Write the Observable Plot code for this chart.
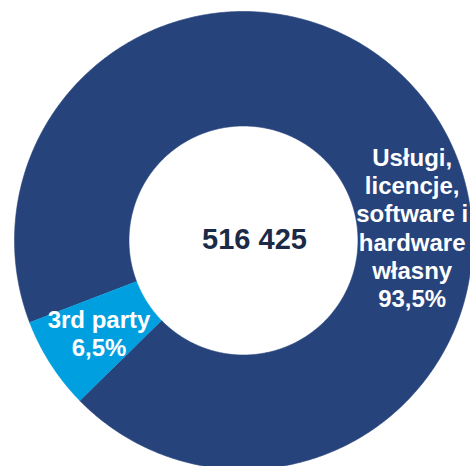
<!DOCTYPE html>
<html>
<head>
<meta charset="utf-8">
<script src="https://cdn.jsdelivr.net/npm/d3@7"></script>
<script src="https://cdn.jsdelivr.net/npm/@observablehq/plot@0.6"></script>
<style>
  html, body { margin: 0; padding: 0; background: #ffffff; }
  #chart { width: 470px; height: 466px; overflow: hidden; }
</style>
</head>
<body>
<div id="chart"></div>
<script>
// ---- data ----
const categories = ["Usługi, licencje, software i hardware własny", "3rd party"];
const shares = [93.5, 6.5];
const sliceLabels = ["Usługi,\nlicencje,\nsoftware i\nhardware\nwłasny\n93,5%", "3rd party\n6,5%"];
const totalLabel = ["516 425"];
const colors = ["#27437c", "#009fdf"];

// ---- geometry (unit circle) ----
const innerR = 0.5, outerR = 1;
const startDeg = 249; // clockwise from 12 o'clock
const total = d3.sum(shares);
const rad = d => d * Math.PI / 180;

const slices = [];
let a = startDeg;
shares.forEach((v, i) => {
  const span = v / total * 360;
  slices.push({cat: categories[i], a0: a, a1: a + span, label: sliceLabels[i]});
  a += span;
});

const pts = [];
slices.forEach(s => {
  const n = Math.max(4, Math.ceil((s.a1 - s.a0) / 0.5));
  for (let k = 0; k <= n; k++) {
    const t = rad(s.a0 + (s.a1 - s.a0) * k / n);
    pts.push({cat: s.cat, x: outerR * Math.sin(t), y: outerR * Math.cos(t)});
  }
  for (let k = n; k >= 0; k--) {
    const t = rad(s.a0 + (s.a1 - s.a0) * k / n);
    pts.push({cat: s.cat, x: innerR * Math.sin(t), y: innerR * Math.cos(t)});
  }
});

// label anchors: mid-ring radius; big slice label sits on the right side
const labelAngleOverride = {0: 85.6};
const labels = slices.map((s, i) => {
  const ang = rad(labelAngleOverride[i] ?? (s.a0 + s.a1) / 2);
  const r = (innerR + outerR) / 2 * (i === 0 ? 0.985 : 1.0);
  return {x: r * Math.sin(ang), y: r * Math.cos(ang), text: s.label};
});

const cx = 243, cy = 240, R = 229;

const chart = Plot.plot({
  width: 470,
  height: 466,
  margin: 0,
  x: {domain: [-1, 1], range: [cx - R, cx + R], axis: null},
  y: {domain: [-1, 1], range: [cy + R, cy - R], axis: null},
  color: {domain: categories, range: colors},
  style: {background: "#ffffff", overflow: "hidden"},
  marks: [
    Plot.line(pts, {x: "x", y: "y", z: "cat", fill: "cat", stroke: "cat", strokeWidth: 0.6, curve: "linear"}),
    Plot.text(labels, {
      x: "x", y: "y", text: "text",
      fill: "#ffffff",
      fontSize: 24, fontWeight: "bold",
      fontFamily: "'Liberation Sans', Arial, sans-serif",
      lineHeight: 1.17, lineAnchor: "middle", textAnchor: "middle"
    }),
    Plot.text(totalLabel, {
      x: () => 0, y: () => 0, text: d => d,
      dx: 11, dy: -1,
      fill: "#1b2a47",
      fontSize: 29, fontWeight: "bold",
      fontFamily: "'Liberation Sans', Arial, sans-serif",
      lineAnchor: "middle", textAnchor: "middle"
    })
  ]
});
document.getElementById("chart").appendChild(chart);
</script>
</body>
</html>
